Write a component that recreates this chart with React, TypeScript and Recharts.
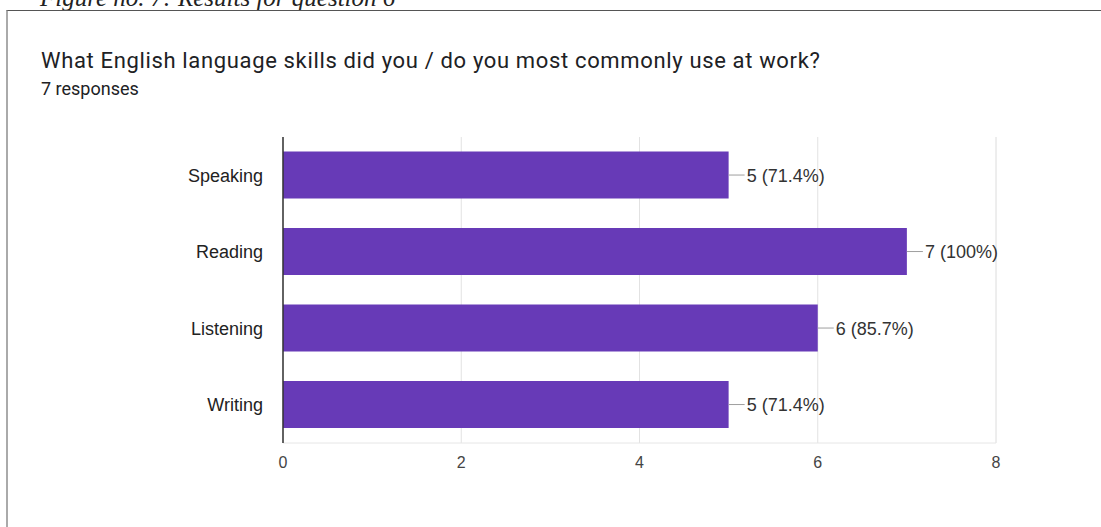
import React from 'react';
import { BarChart, Bar, XAxis, YAxis, CartesianGrid, LabelList } from 'recharts';

const skills = ['Speaking', 'Reading', 'Listening', 'Writing'];
const counts = [5, 7, 6, 5];
const totalResponses = 7;
const majorTicks = [0, 2, 4, 6, 8];
const minorTicks = [0, 1, 2, 3, 4, 5, 6, 7, 8];

const data = skills.map((skill, i) => ({ skill, count: counts[i] }));

const SANS = '"Liberation Sans", Arial, sans-serif';

const ValueLabel = (props: any) => {
  const { x, y, width, height, value } = props;
  const xe = Number(x) + Number(width);
  const yc = Number(y) + Number(height) / 2;
  const pct = Math.round((Number(value) / totalResponses) * 1000) / 10;
  return (
    <g>
      <line x1={xe} x2={xe + 16} y1={yc} y2={yc} stroke="#9e9e9e" strokeWidth={1} />
      <text x={xe + 18} y={yc} dy="0.36em" fontSize={18} fill="#333" fontFamily={SANS}>
        {`${value} (${pct}%)`}
      </text>
    </g>
  );
};

export default function App() {
  return (
    <div style={{ position: 'absolute', left: 0, top: 0, width: 1101, height: 527, overflow: 'hidden', background: '#fff' }}>
      <div
        style={{
          position: 'absolute', left: 40, top: -15, fontFamily: '"Liberation Serif", "DejaVu Serif", serif',
          fontStyle: 'italic', fontSize: 25, lineHeight: '25px', color: '#222', whiteSpace: 'nowrap',
        }}
      >
        Figure no. 7: Results for question 6
      </div>
      <div
        style={{
          position: 'absolute', left: 6, top: 10, width: 1101, height: 527,
          borderTop: '1px solid #555', borderLeft: '2px solid #aaa', background: '#fff',
        }}
      />
      <div
        style={{
          position: 'absolute', left: 41, top: 48, fontFamily: 'Roboto, sans-serif', fontSize: 22,
          letterSpacing: 0.65, lineHeight: '26px', color: '#202124', whiteSpace: 'nowrap',
        }}
      >
        What English language skills did you / do you most commonly use at work?
      </div>
      <div
        style={{
          position: 'absolute', left: 41, top: 79, fontFamily: 'Roboto, sans-serif', fontSize: 18,
          lineHeight: '20px', color: '#202124', whiteSpace: 'nowrap',
        }}
      >
        {totalResponses} responses
      </div>
      <div style={{ position: 'absolute', left: 0, top: 0 }}>
        <BarChart
          width={1101}
          height={527}
          data={data}
          layout="vertical"
          margin={{ top: 137, right: 105, bottom: 54, left: 0 }}
          barCategoryGap="19%"
        >
          <XAxis xAxisId="minor" type="number" domain={[0, 8]} ticks={minorTicks} hide />
          <XAxis
            xAxisId="top"
            orientation="top"
            type="number"
            domain={[0, 8]}
            height={0}
            tick={false}
            tickLine={false}
            axisLine={{ stroke: '#e6e6e6' }}
          />
          <CartesianGrid xAxisId="minor" horizontal={false} stroke="#f3f3f3" />
          <CartesianGrid horizontal={false} stroke="#e2e2e2" />
          <XAxis
            type="number"
            domain={[0, 8]}
            ticks={majorTicks}
            height={30}
            tickLine={false}
            tickSize={6}
            tickMargin={8}
            axisLine={{ stroke: '#e6e6e6' }}
            tick={{ fontSize: 16, fill: '#444', fontFamily: SANS }}
          />
          <YAxis
            type="category"
            dataKey="skill"
            width={283}
            tickLine={false}
            tickSize={6}
            tickMargin={14}
            axisLine={{ stroke: '#333', strokeWidth: 1.5 }}
            tick={{ fontSize: 18, fill: '#222', fontFamily: SANS }}
          />
          <Bar dataKey="count" fill="#673ab7" isAnimationActive={false}>
            <LabelList dataKey="count" content={ValueLabel} />
          </Bar>
        </BarChart>
      </div>
    </div>
  );
}
